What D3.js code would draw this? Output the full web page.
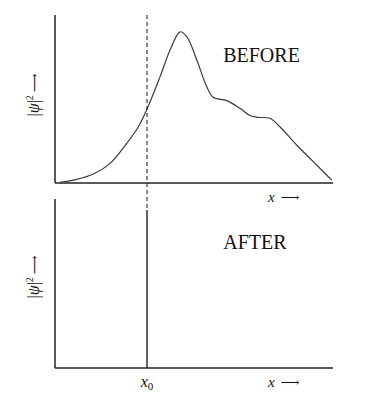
<!DOCTYPE html>
<html>
<head>
<meta charset="utf-8">
<script src="https://cdn.jsdelivr.net/npm/d3@7"></script>
<style>
  html, body { margin: 0; padding: 0; background: #fff; }
  svg { display: block; }
  text { font-family: "Liberation Serif", "DejaVu Serif", serif; fill: #111; }
</style>
</head>
<body>
<script>
// ---- data ----
const beforeX = [0.18, 0.78, 1.38, 1.98, 2.58, 3.00, 3.31, 3.78, 4.14, 4.50, 4.74, 5.10, 5.46, 5.69, 6.18, 6.65, 7.01, 7.30, 7.73, 8.09, 8.69, 9.29, 9.95];
const beforeY = [0.004, 0.022, 0.054, 0.117, 0.236, 0.335, 0.44, 0.633, 0.792, 0.90, 0.871, 0.732, 0.573, 0.51, 0.49, 0.445, 0.402, 0.391, 0.385, 0.335, 0.226, 0.127, 0.018];
const measuredX = [3.31];          // x0, position of the measurement
const spikeHeight = [0.935];       // height of collapsed |psi|^2 spike (after)
const panelTitles = ["BEFORE", "AFTER"];

const W = 368, H = 397;
const svg = d3.select("body").append("svg").attr("width", W).attr("height", H);

const x = d3.scaleLinear().domain([0, 10]).range([55, 333]);
const yTop = d3.scaleLinear().domain([0, 1]).range([183, 15]);
const yBot = d3.scaleLinear().domain([0, 1]).range([368, 199]);

const axisColor = "#222";

function drawAxes(y) {
  svg.append("line").attr("x1", x(0)).attr("x2", x(0)).attr("y1", y(0)).attr("y2", y(1))
    .attr("stroke", axisColor).attr("stroke-width", 1.5);
  svg.append("line").attr("x1", x(0)).attr("x2", x(10)).attr("y1", y(0)).attr("y2", y(0))
    .attr("stroke", axisColor).attr("stroke-width", 1.5);
}
drawAxes(yTop);
drawAxes(yBot);

// before curve
const pts = beforeX.map((d, i) => [d, beforeY[i]]);
const line = d3.line().x(d => x(d[0])).y(d => yTop(d[1])).curve(d3.curveCatmullRom.alpha(0.5));
svg.append("path").datum(pts).attr("d", line)
  .attr("fill", "none").attr("stroke", "#3a3a3a").attr("stroke-width", 1.2);

// dashed measurement line (through both panels down to spike top)
svg.append("line")
  .attr("x1", x(measuredX[0])).attr("x2", x(measuredX[0]))
  .attr("y1", yTop(1)).attr("y2", yBot(spikeHeight[0]))
  .attr("stroke", "#111").attr("stroke-width", 1).attr("stroke-dasharray", "4,3");

// spike after
svg.append("line")
  .attr("x1", x(measuredX[0])).attr("x2", x(measuredX[0]))
  .attr("y1", yBot(0)).attr("y2", yBot(spikeHeight[0]))
  .attr("stroke", "#111").attr("stroke-width", 1.3);

// titles
svg.append("text").attr("x", x(6.05)).attr("y", yTop(0.72)).attr("font-size", 20).text(panelTitles[0]);
svg.append("text").attr("x", x(6.05)).attr("y", yBot(0.705)).attr("font-size", 20).text(panelTitles[1]);

// x labels
function xLabel(yPos) {
  const t = svg.append("text").attr("x", 268).attr("y", yPos).attr("font-size", 15);
  t.append("tspan").attr("font-style", "italic").text("x");
  t.append("tspan").attr("font-family", "DejaVu Serif").attr("font-size", 13).attr("dx", 6).text("\u27F6");
}
xLabel(202);
xLabel(387);

// x0 label
const x0t = svg.append("text").attr("x", x(measuredX[0])).attr("y", 387).attr("font-size", 16).attr("text-anchor", "middle");
x0t.append("tspan").attr("font-style", "italic").text("x");
x0t.append("tspan").attr("font-size", 11).attr("dy", 3).text("0");

// y labels
function yLabel(cy) {
  const t = svg.append("text").attr("transform", `translate(39,${cy}) rotate(-90)`)
    .attr("font-size", 16).attr("text-anchor", "middle");
  t.append("tspan").text("|");
  t.append("tspan").attr("font-style", "italic").text("\u03C8");
  t.append("tspan").text("|");
  t.append("tspan").attr("font-size", 10).attr("dy", -6).text("2");
  t.append("tspan").attr("dy", 6).attr("dx", 3).attr("font-family", "DejaVu Serif").attr("font-size", 13).text("\u27F6");
}
yLabel(95);
yLabel(277);
</script>
</body>
</html>
